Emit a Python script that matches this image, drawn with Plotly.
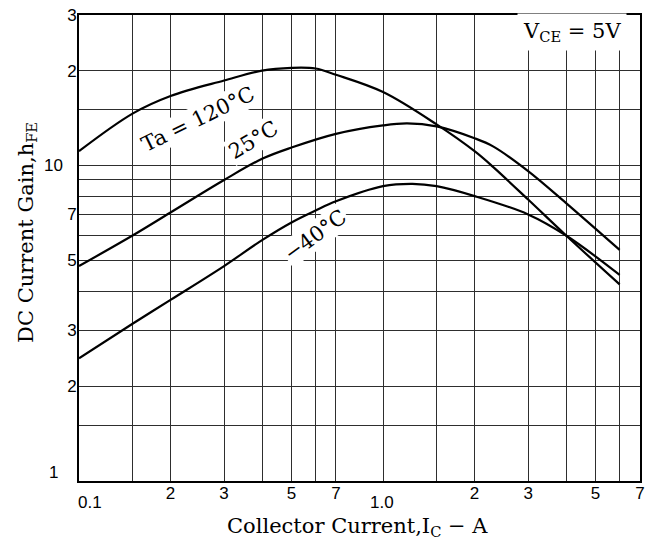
import math
import plotly.graph_objects as go

# ---- data ----
ic_120 = [0.1, 0.15, 0.2, 0.3, 0.4, 0.5, 0.6, 0.7, 1.0, 1.5, 2.0, 2.3, 3.0, 4.0, 6.0]
hfe_120 = [11.1, 14.6, 16.6, 18.6, 20.0, 20.4, 20.3, 19.4, 17.1, 13.5, 11.1, 9.9, 7.8, 6.0, 4.2]

ic_25 = [0.1, 0.15, 0.2, 0.3, 0.4, 0.5, 0.7, 1.0, 1.2, 1.5, 2.0, 2.3, 3.0, 4.0, 6.0]
hfe_25 = [4.8, 6.0, 7.1, 9.0, 10.5, 11.4, 12.6, 13.4, 13.6, 13.3, 12.2, 11.5, 9.6, 7.6, 5.4]

ic_m40 = [0.1, 0.15, 0.2, 0.3, 0.4, 0.5, 0.6, 0.7, 1.0, 1.25, 1.5, 2.0, 3.0, 4.0, 6.0]
hfe_m40 = [2.45, 3.15, 3.75, 4.8, 5.8, 6.6, 7.2, 7.7, 8.6, 8.75, 8.6, 8.0, 7.0, 6.0, 4.5]

x_grid = [0.15, 0.2, 0.3, 0.4, 0.5, 0.6, 0.7, 1.0, 1.5, 2, 3, 4, 5, 6]
x_text = ["", "2", "3", "", "5", "", "7", "", "", "2", "3", "", "5", ""]
x_edge_tick = [7]
y_grid = [1.5, 2, 3, 4, 5, 6, 7, 8, 9, 10, 15, 20, 30]
y_text = ["", "2", "3", "", "5", "", "7", "", "", "", "", "2", "3"]

SERIF = "DejaVu Serif"
SANS = "Liberation Sans, Arial, sans-serif"
TICKFONT = dict(family=SANS, size=17, color="black")
LINE = dict(color="black", width=2.2, shape="spline", smoothing=1.0)

fig = go.Figure()
for xs, ys, nm in [(ic_120, hfe_120, "120"), (ic_25, hfe_25, "25"), (ic_m40, hfe_m40, "-40")]:
    fig.add_trace(go.Scatter(x=xs, y=ys, mode="lines", line=LINE, name=nm,
                             showlegend=False, hoverinfo="skip"))

fig.update_layout(
    width=651, height=540,
    margin=dict(l=79, r=6, t=10, b=59),
    paper_bgcolor="white", plot_bgcolor="white",
    showlegend=False,
)
fig.update_xaxes(
    type="log", range=[-1, math.log10(7)],
    tickmode="array", tickvals=x_grid + x_edge_tick, ticktext=x_text + ["7"],
    showgrid=True, gridcolor="#2e2e2e", gridwidth=1,
    showline=True, linecolor="black", linewidth=2, mirror=True,
    ticks="", tickfont=TICKFONT, ticklabelstandoff=-4,
    zeroline=False,
)
fig.update_yaxes(
    type="log", range=[0, math.log10(30)],
    tickmode="array", tickvals=y_grid, ticktext=y_text,
    showgrid=True, gridcolor="#2e2e2e", gridwidth=1,
    showline=True, linecolor="black", linewidth=2, mirror=True,
    ticks="", tickfont=TICKFONT, ticklabelstandoff=-3,
    zeroline=False,
)

ann = []
# decade tick labels (offset like the original)
ann.append(dict(text="0.1", xref="x", x=-1, yref="paper", y=0, xanchor="center", yanchor="top",
                xshift=11, yshift=-10, showarrow=False, font=TICKFONT))
ann.append(dict(text="1.0", xref="x", x=0, yref="paper", y=0, xanchor="center", yanchor="top",
                xshift=-1, yshift=-10, showarrow=False, font=TICKFONT))
ann.append(dict(text="10", xref="paper", x=0, yref="y", y=1, xanchor="right", yanchor="middle",
                xshift=-14, showarrow=False, font=TICKFONT))
ann.append(dict(text="1", xref="paper", x=0, yref="y", y=0, xanchor="right", yanchor="middle",
                xshift=-19, yshift=9, showarrow=False, font=TICKFONT))
# axis titles
ann.append(dict(text="DC Current Gain,h<sub>FE</sub>", xref="paper", x=-0.094, yref="paper", y=0.533,
                textangle=-90, xanchor="center", yanchor="middle", showarrow=False,
                font=dict(family=SERIF, size=21, color="black")))
ann.append(dict(text="Collector Current,I<sub>C</sub> − A", xref="paper", x=0.496, yref="paper", y=-0.098,
                xanchor="center", yanchor="middle", showarrow=False,
                font=dict(family=SERIF, size=21, color="black")))
# curve labels
ann.append(dict(text="Ta = 120°C", xref="paper", x=0.213, yref="paper", y=0.776, textangle=-26,
                xanchor="center", yanchor="middle", showarrow=False, bgcolor="white", borderpad=1,
                font=dict(family=SERIF, size=21, color="black")))
ann.append(dict(text="25°C", xref="paper", x=0.311, yref="paper", y=0.731, textangle=-31,
                xanchor="center", yanchor="middle", showarrow=False, bgcolor="white", borderpad=1,
                font=dict(family=SERIF, size=21, color="black")))
ann.append(dict(text="−40°C", xref="paper", x=0.422, yref="paper", y=0.527, textangle=-36,
                xanchor="center", yanchor="middle", showarrow=False, bgcolor="white", borderpad=1,
                font=dict(family=SERIF, size=21, color="black")))
ann.append(dict(text="V<sub>CE</sub> = 5V", xref="paper", x=0.878, yref="paper", y=0.963,
                xanchor="center", yanchor="middle", showarrow=False, bgcolor="white", borderpad=5,
                font=dict(family=SERIF, size=21, color="black")))
fig.update_layout(annotations=ann)

fig.write_html("out.html", config={"displayModeBar": False},
               post_script="document.body.style.margin='0px';document.body.style.padding='0px';")
